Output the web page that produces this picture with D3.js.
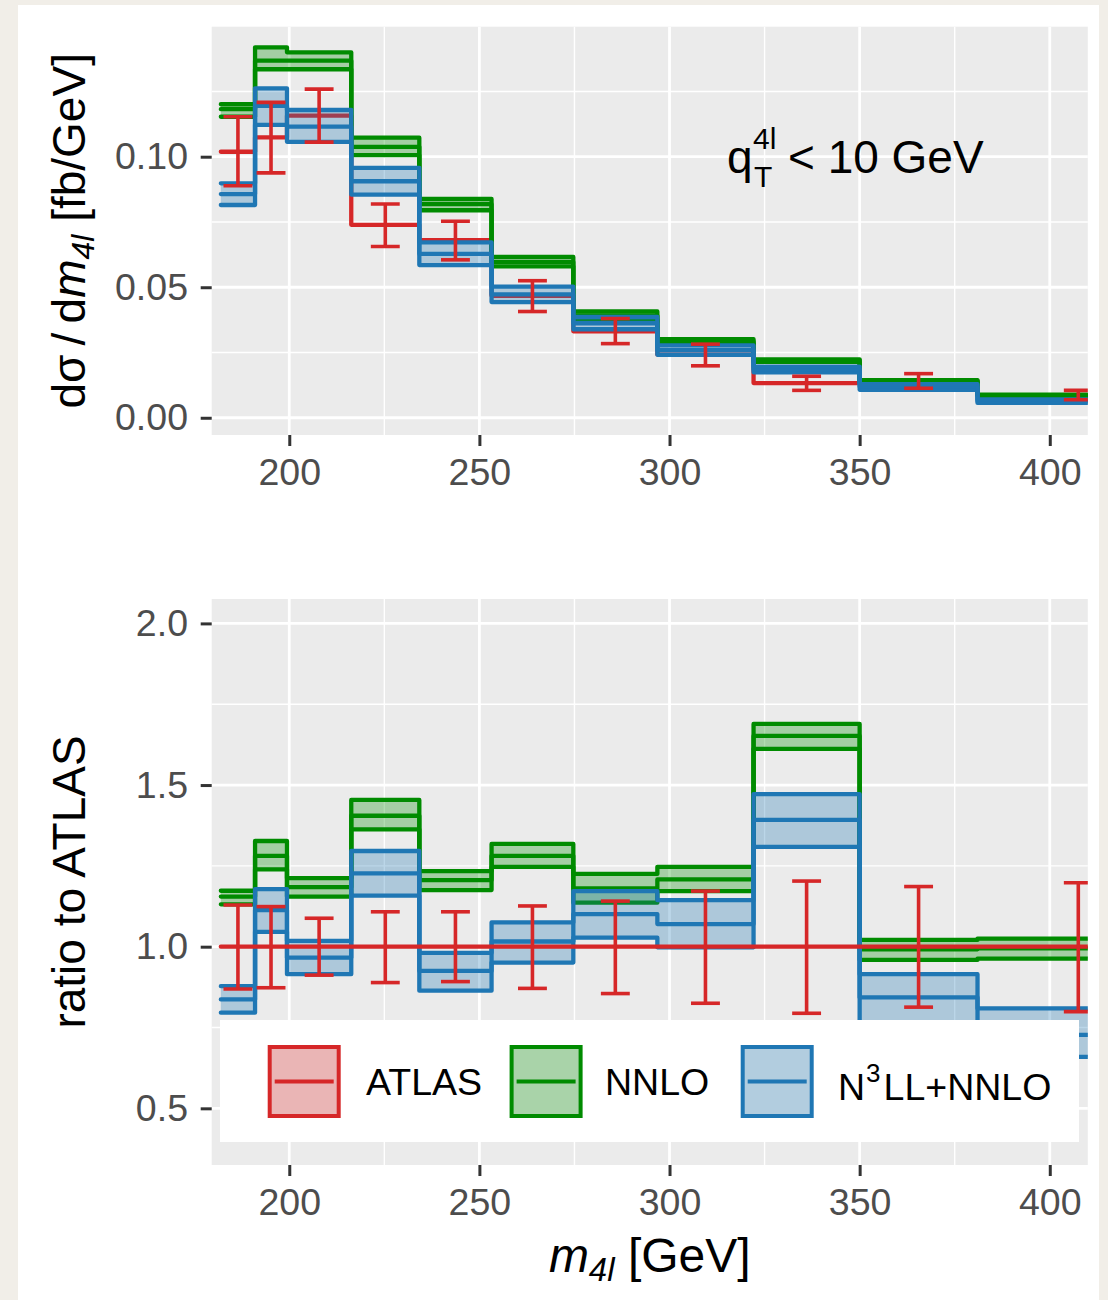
<!DOCTYPE html>
<html lang="en">
<head>
<meta charset="utf-8">
<script src="https://d3js.org/d3.v7.min.js"></script>
<style>
    body { margin: 0; background: #f1eee8; }
    text { font-family: "Liberation Sans", Arial, Helvetica, sans-serif; }
</style>
</head>
<body>
<div id="chart"></div>
<script>
    // bin edges in m4l [GeV]
    var edges = [182, 191, 199.4, 216.3, 234.2, 253.2, 274.7, 296.8, 322.1, 350, 381, 434];

    // top panel: d sigma / d m4l [fb/GeV]
    var atlas    = [0.1019, 0.1074, 0.1157, 0.0739, 0.0680, 0.0467, 0.0331, 0.0242, 0.0133, 0.0141, 0.0087];
    var atlasLo  = [0.0889, 0.0938, 0.1056, 0.0656, 0.0605, 0.0407, 0.0284, 0.0199, 0.0105, 0.0113, 0.0069];
    var atlasHi  = [0.1153, 0.1208, 0.1259, 0.0819, 0.0753, 0.0525, 0.0380, 0.0282, 0.0159, 0.0169, 0.0105];
    var nnloLo   = [0.1153, 0.1335, 0.1335, 0.1006, 0.0795, 0.0580, 0.0376, 0.0283, 0.0214, 0.0135, 0.0084];
    var nnlo     = [0.1182, 0.1368, 0.1368, 0.1038, 0.0818, 0.0597, 0.0391, 0.0292, 0.0220, 0.0140, 0.0086];
    var nnloHi   = [0.1201, 0.1419, 0.1400, 0.1073, 0.0838, 0.0616, 0.0407, 0.0301, 0.0224, 0.0144, 0.0089];
    var n3llLo   = [0.0815, 0.1122, 0.1057, 0.0855, 0.0585, 0.0443, 0.0339, 0.0241, 0.0174, 0.0107, 0.0057];
    var n3ll     = [0.0857, 0.1195, 0.1115, 0.0906, 0.0628, 0.0473, 0.0362, 0.0259, 0.0185, 0.0119, 0.0063];
    var n3llHi   = [0.0898, 0.1262, 0.1179, 0.0957, 0.0672, 0.0502, 0.0386, 0.0277, 0.0196, 0.0129, 0.0070];

    // bottom panel: ratio to ATLAS
    var rAtlas   = [1, 1, 1, 1, 1, 1, 1, 1, 1, 1, 1];
    var rAtlasLo = [0.869, 0.873, 0.912, 0.889, 0.892, 0.871, 0.855, 0.825, 0.794, 0.813, 0.799];
    var rAtlasHi = [1.129, 1.124, 1.088, 1.108, 1.108, 1.126, 1.141, 1.172, 1.203, 1.186, 1.198];
    var rNnloLo  = [1.131, 1.239, 1.155, 1.363, 1.175, 1.247, 1.136, 1.172, 1.612, 0.959, 0.963];
    var rNnlo    = [1.155, 1.281, 1.184, 1.405, 1.206, 1.281, 1.180, 1.208, 1.652, 0.992, 0.995];
    var rNnloHi  = [1.173, 1.327, 1.212, 1.454, 1.234, 1.318, 1.225, 1.247, 1.689, 1.021, 1.025];
    var rN3llLo  = [0.796, 1.046, 0.915, 1.158, 0.864, 0.951, 1.028, 0.998, 1.309, 0.760, 0.659];
    var rN3ll    = [0.837, 1.113, 0.966, 1.227, 0.925, 1.016, 1.101, 1.070, 1.392, 0.843, 0.727];
    var rN3llHi  = [0.878, 1.178, 1.018, 1.296, 0.981, 1.075, 1.172, 1.144, 1.472, 0.915, 0.809];

    // ticks
    var xTicks = [200, 250, 300, 350, 400];
    var xMinor = [225, 275, 325, 375];
    var yTopTicks = [0, 0.05, 0.10];
    var yTopMinor = [0.025, 0.075, 0.125];
    var yRatTicks = [0.5, 1.0, 1.5, 2.0];
    var yRatMinor = [0.75, 1.25, 1.75];

    var colors = { atlas: "#d62728", nnlo: "#008b00", n3ll: "#1f77b4" };

    var W = 1108, H = 1300;
    var svg = d3.select("#chart").append("svg")
        .attr("width", W)
        .attr("height", H);

    // paper + white sheet
    svg.append("rect").attr("width", W).attr("height", H).attr("fill", "#f1eee8");
    svg.append("rect").attr("x", 18).attr("y", 5).attr("width", 1081).attr("height", 1295).attr("fill", "#ffffff");

    var x = d3.scaleLinear().domain([179.6, 410.0]).range([211.7, 1087.8]);
    var yTop = d3.scaleLinear().domain([-0.0066, 0.1498]).range([435, 26.7]);
    var yRat = d3.scaleLinear().domain([0.3247, 2.0755]).range([1165, 599]);

    function panel(y, ticks, minor, fmt, id) {
        var g = svg.append("g");
        var x0 = x.range()[0], x1 = x.range()[1];
        var y0 = y.range()[1], y1 = y.range()[0];

        g.append("rect")
            .attr("x", x0).attr("y", y0)
            .attr("width", x1 - x0).attr("height", y1 - y0)
            .attr("fill", "#ebebeb");

        // minor grid
        g.selectAll(".vmin").data(xMinor).enter().append("line")
            .attr("x1", d => x(d)).attr("x2", d => x(d))
            .attr("y1", y0).attr("y2", y1)
            .attr("stroke", "#fff").attr("stroke-width", 1.4);
        g.selectAll(".hmin").data(minor).enter().append("line")
            .attr("x1", x0).attr("x2", x1)
            .attr("y1", d => y(d)).attr("y2", d => y(d))
            .attr("stroke", "#fff").attr("stroke-width", 1.4);
        // major grid
        g.selectAll(".vmaj").data(xTicks).enter().append("line")
            .attr("x1", d => x(d)).attr("x2", d => x(d))
            .attr("y1", y0).attr("y2", y1)
            .attr("stroke", "#fff").attr("stroke-width", 2.8);
        g.selectAll(".hmaj").data(ticks).enter().append("line")
            .attr("x1", x0).attr("x2", x1)
            .attr("y1", d => y(d)).attr("y2", d => y(d))
            .attr("stroke", "#fff").attr("stroke-width", 2.8);

        // axes
        var ax = g.append("g")
            .attr("transform", "translate(0," + y1 + ")")
            .call(d3.axisBottom(x).tickValues(xTicks).tickSize(11).tickPadding(12.4).tickFormat(d3.format("d")));
        var ay = g.append("g")
            .attr("transform", "translate(" + x0 + ",0)")
            .call(d3.axisLeft(y).tickValues(ticks).tickSize(11).tickPadding(12.7).tickFormat(d3.format(fmt)));
        [ax, ay].forEach(function(a) {
            a.attr("font-family", null).attr("font-size", null);
            a.select(".domain").remove();
            a.selectAll(".tick line").attr("stroke", "#333").attr("stroke-width", 3);
            a.selectAll(".tick text").attr("fill", "#4d4d4d").style("font-size", "37.5px");
        });

        svg.append("clipPath").attr("id", id)
            .append("rect")
            .attr("x", x0).attr("y", y0)
            .attr("width", x1 - x0).attr("height", y1 - y0);

        return svg.append("g").attr("clip-path", "url(#" + id + ")");
    }

    function binPoints(lo, mid, hi) {
        return edges.map(function(e, i) {
            var k = Math.min(i, mid.length - 1);
            return { x: e, lo: lo[k], mid: mid[k], hi: hi[k] };
        });
    }

    function stepLine(g, y, pts, key, col) {
        g.append("path").datum(pts)
            .attr("d", d3.line().curve(d3.curveStepAfter)
                .x(d => x(d.x)).y(d => y(d[key])))
            .attr("fill", "none")
            .attr("stroke", col)
            .attr("stroke-width", 4.3)
            .attr("stroke-linejoin", "round")
            .attr("stroke-linecap", "round");
    }

    function band(g, y, lo, mid, hi, col) {
        var pts = binPoints(lo, mid, hi);
        g.append("path").datum(pts)
            .attr("d", d3.area().curve(d3.curveStepAfter)
                .x(d => x(d.x)).y0(d => y(d.lo)).y1(d => y(d.hi)))
            .attr("fill", col)
            .attr("fill-opacity", 0.3);
        ["lo", "mid", "hi"].forEach(function(k) { stepLine(g, y, pts, k, col); });
    }

    function errorBars(g, y, lo, hi) {
        var half = 3.8;
        var data = lo.map(function(l, i) {
            return { c: (edges[i] + edges[i + 1]) / 2, lo: l, hi: hi[i] };
        });
        var eb = g.selectAll(".eb").data(data).enter().append("g")
            .attr("stroke", colors.atlas)
            .attr("stroke-width", 3.6);
        eb.append("line")
            .attr("x1", d => x(d.c)).attr("x2", d => x(d.c))
            .attr("y1", d => y(d.lo)).attr("y2", d => y(d.hi));
        eb.append("line")
            .attr("x1", d => x(d.c - half)).attr("x2", d => x(d.c + half))
            .attr("y1", d => y(d.lo)).attr("y2", d => y(d.lo));
        eb.append("line")
            .attr("x1", d => x(d.c - half)).attr("x2", d => x(d.c + half))
            .attr("y1", d => y(d.hi)).attr("y2", d => y(d.hi));
    }

    // ---- top panel
    var gTop = panel(yTop, yTopTicks, yTopMinor, ".2f", "clipTop");
    stepLine(gTop, yTop, binPoints(atlas, atlas, atlas), "mid", colors.atlas);
    band(gTop, yTop, nnloLo, nnlo, nnloHi, colors.nnlo);
    band(gTop, yTop, n3llLo, n3ll, n3llHi, colors.n3ll);
    errorBars(gTop, yTop, atlasLo, atlasHi);

    // ---- ratio panel
    var gRat = panel(yRat, yRatTicks, yRatMinor, ".1f", "clipRat");
    band(gRat, yRat, rNnloLo, rNnlo, rNnloHi, colors.nnlo);
    band(gRat, yRat, rN3llLo, rN3ll, rN3llHi, colors.n3ll);
    stepLine(gRat, yRat, binPoints(rAtlas, rAtlas, rAtlas), "mid", colors.atlas);
    errorBars(gRat, yRat, rAtlasLo, rAtlasHi);

    // ---- annotation
    var ann = svg.append("g").attr("fill", "#000");
    ann.append("text").attr("x", 727).attr("y", 173).style("font-size", "46px").text("q");
    ann.append("text").attr("x", 753).attr("y", 149).style("font-size", "30px").text("4l");
    ann.append("text").attr("x", 754).attr("y", 187).style("font-size", "30px").text("T");
    ann.append("text").attr("x", 788).attr("y", 173).style("font-size", "46px").text("< 10 GeV");

    // ---- axis titles
    var yt1 = svg.append("text")
        .attr("transform", "translate(85," + ((yTop.range()[0] + yTop.range()[1]) / 2) + ") rotate(-90)")
        .attr("text-anchor", "middle")
        .style("font-size", "46px");
    yt1.append("tspan").text("dσ\u2009/\u2009d");
    yt1.append("tspan").style("font-style", "italic").text("m");
    yt1.append("tspan").style("font-style", "italic").style("font-size", "32px").attr("dy", 9).text("4l");
    yt1.append("tspan").attr("dy", -9).text(" [fb/GeV]");

    svg.append("text")
        .attr("transform", "translate(85," + ((yRat.range()[0] + yRat.range()[1]) / 2) + ") rotate(-90)")
        .attr("text-anchor", "middle")
        .style("font-size", "46px")
        .text("ratio to ATLAS");

    var xt = svg.append("text")
        .attr("x", (x.range()[0] + x.range()[1]) / 2)
        .attr("y", 1272)
        .attr("text-anchor", "middle")
        .style("font-size", "48px");
    xt.append("tspan").style("font-style", "italic").text("m");
    xt.append("tspan").style("font-style", "italic").style("font-size", "33px").attr("dy", 9).text("4l");
    xt.append("tspan").attr("dy", -9).text(" [GeV]");

    // ---- legend
    var legendItems = [
        { key: "atlas", label: "ATLAS", kx: 269.7, tx: 366 },
        { key: "nnlo", label: "NNLO", kx: 511.6, tx: 605 },
        { key: "n3ll", label: "N3LL+NNLO", kx: 742.7, tx: 838 }
    ];
    var lg = svg.append("g");
    lg.append("rect").attr("x", 220).attr("y", 1020).attr("width", 859).attr("height", 122).attr("fill", "#fff");
    var li = lg.selectAll(".li").data(legendItems).enter().append("g");
    li.append("rect")
        .attr("x", d => d.kx).attr("y", 1047).attr("width", 69).attr("height", 69)
        .attr("fill", "#f2f2f2");
    li.append("rect")
        .attr("x", d => d.kx).attr("y", 1047).attr("width", 69).attr("height", 69)
        .attr("fill", d => colors[d.key]).attr("fill-opacity", 0.3)
        .attr("stroke", d => colors[d.key]).attr("stroke-width", 4);
    li.append("line")
        .attr("x1", d => d.kx + 5).attr("x2", d => d.kx + 64)
        .attr("y1", 1081.5).attr("y2", 1081.5)
        .attr("stroke", d => colors[d.key]).attr("stroke-width", 4);
    li.each(function(d) {
        var t = d3.select(this).append("text")
            .attr("x", d.tx)
            .style("font-size", "37.5px")
            .attr("fill", "#000");
        if (d.key === "n3ll") {
            t.attr("y", 1099.5);
            t.append("tspan").text("N");
            t.append("tspan").style("font-size", "26px").attr("dy", -18).attr("dx", 1).text("3");
            t.append("tspan").attr("dy", 18).attr("dx", 3).text("LL+NNLO");
        } else {
            t.attr("y", 1095).text(d.label);
        }
    });
</script>
</body>
</html>
